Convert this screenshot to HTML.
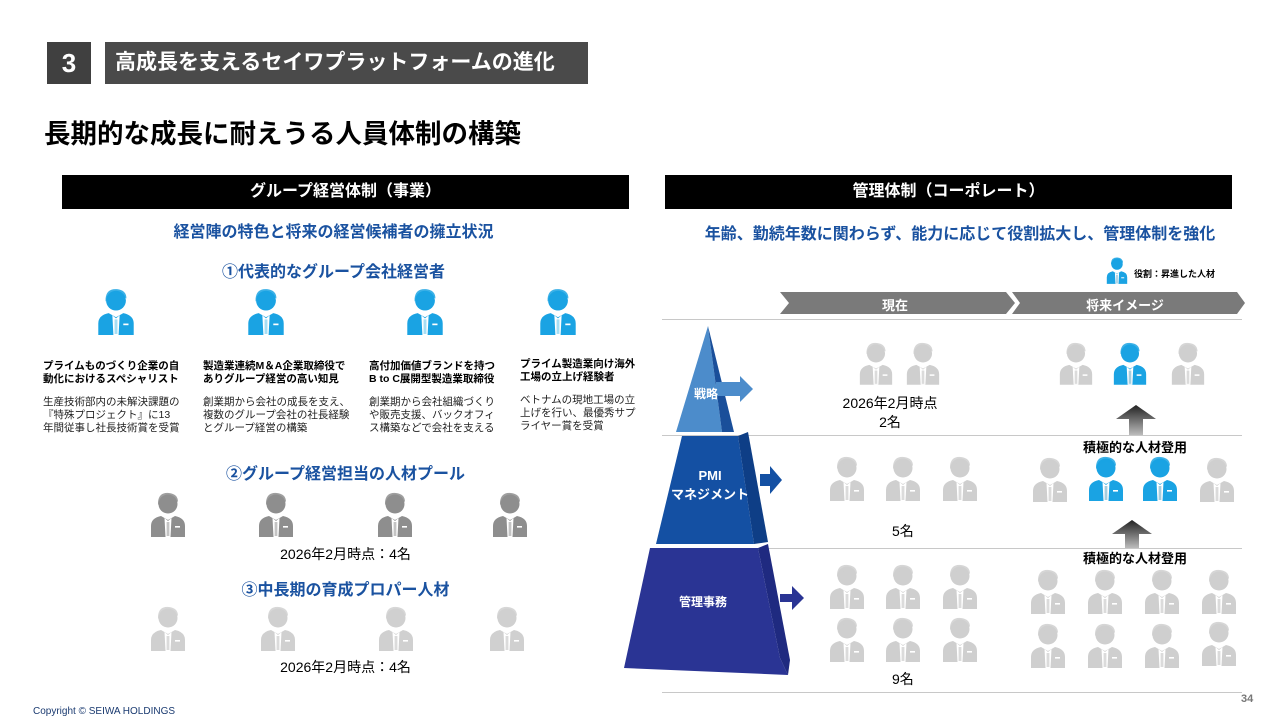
<!DOCTYPE html>
<html><head><meta charset="utf-8">
<style>
*{margin:0;padding:0;box-sizing:border-box}
body{width:1280px;height:720px;position:relative;background:#fff;font-family:"Liberation Sans","Noto Sans CJK JP",sans-serif;overflow:hidden;color:#000}
.a{position:absolute;white-space:nowrap}
.c{text-align:center}
.b{font-weight:bold}
.blue{color:#1a52a0}
svg.p{position:absolute}
.desc{position:absolute;font-size:10.5px;line-height:13px;color:#222}
.desc b{display:block;font-size:10.5px;margin-bottom:10px;color:#000}
.line{position:absolute;left:662px;width:580px;height:1px;background:#c8c8c8}
</style></head><body>
<svg width="0" height="0" style="position:absolute">
<defs>
<symbol id="pp" viewBox="0 0 40 48">
<path d="M3 48 V37 Q3 29 13 27 L20 31 L27 27 Q37 29 37 37 V48 Z"/>
<circle cx="20" cy="15" r="9.5"/>
<path d="M10 13 Q11 3 21 4 Q30 5 30 13 Q25 8 17 10 Q13 11 10 16 Z" opacity=".85"/>
<path d="M16.5 29 L20 32 L23.5 29 L22.5 48 L17.5 48 Z" fill="#fff"/>
<rect x="18.6" y="33" width="2.8" height="14" fill="currentColor" opacity=".35"/>
<rect x="27" y="37" width="5" height="1.6" fill="#fff"/>
</symbol>
</defs></svg>

<!-- header -->
<div class="a" style="left:47px;top:42px;width:44px;height:42px;background:#404040;color:#fff;font-size:26px;font-weight:bold;text-align:center;line-height:42px">3</div>
<div class="a" style="left:105px;top:42px;width:483px;height:42px;background:#4a4a4a;color:#fff;font-size:21px;font-weight:bold;line-height:42px;padding-left:10px">高成長を支えるセイワプラットフォームの進化</div>
<div class="a b" style="left:44px;top:112px;font-size:26.5px">長期的な成長に耐えうる人員体制の構築</div>

<!-- left panel -->
<div class="a c b" style="left:62px;top:175px;width:567px;height:34px;background:#000;color:#fff;font-size:16px;line-height:34px">グループ経営体制（事業）</div>
<div class="a c b blue" style="left:50px;top:218px;width:567px;font-size:16px">経営陣の特色と将来の経営候補者の擁立状況</div>
<div class="a c b blue" style="left:50px;top:258px;width:567px;font-size:16px">①代表的なグループ会社経営者</div>

<svg class="p" style="left:95px;top:285px;color:#00a0e0;fill:#1aa3e3" width="42" height="50"><use href="#pp"/></svg>
<svg class="p" style="left:245px;top:285px;color:#00a0e0;fill:#1aa3e3" width="42" height="50"><use href="#pp"/></svg>
<svg class="p" style="left:404px;top:285px;color:#00a0e0;fill:#1aa3e3" width="42" height="50"><use href="#pp"/></svg>
<svg class="p" style="left:537px;top:285px;color:#00a0e0;fill:#1aa3e3" width="42" height="50"><use href="#pp"/></svg>

<div class="desc" style="left:43px;top:360px"><b>プライムものづくり企業の自<br>動化におけるスペシャリスト</b>生産技術部内の未解決課題の<br>『特殊プロジェクト』に13<br>年間従事し社長技術賞を受賞</div>
<div class="desc" style="left:203px;top:360px"><b>製造業連続M＆A企業取締役で<br>ありグループ経営の高い知見</b>創業期から会社の成長を支え、<br>複数のグループ会社の社長経験<br>とグループ経営の構築</div>
<div class="desc" style="left:369px;top:360px"><b>高付加価値ブランドを持つ<br>B to C展開型製造業取締役</b>創業期から会社組織づくり<br>や販売支援、バックオフィ<br>ス構築などで会社を支える</div>
<div class="desc" style="left:520px;top:358px"><b>プライム製造業向け海外<br>工場の立上げ経験者</b>ベトナムの現地工場の立<br>上げを行い、最優秀サプ<br>ライヤー賞を受賞</div>

<div class="a c b blue" style="left:62px;top:460px;width:567px;font-size:16px">②グループ経営担当の人材プール</div>
<svg class="p" style="left:148px;top:489px;fill:#8e8e8e;color:#555" width="40" height="48"><use href="#pp"/></svg>
<svg class="p" style="left:256px;top:489px;fill:#8e8e8e;color:#555" width="40" height="48"><use href="#pp"/></svg>
<svg class="p" style="left:375px;top:489px;fill:#8e8e8e;color:#555" width="40" height="48"><use href="#pp"/></svg>
<svg class="p" style="left:490px;top:489px;fill:#8e8e8e;color:#555" width="40" height="48"><use href="#pp"/></svg>
<div class="a c" style="left:62px;top:544px;width:567px;font-size:14px">2026年2月時点：4名</div>

<div class="a c b blue" style="left:62px;top:576px;width:567px;font-size:16px">③中長期の育成プロパー人材</div>
<svg class="p" style="left:148px;top:603px;fill:#d0d0d0;color:#999" width="40" height="48"><use href="#pp"/></svg>
<svg class="p" style="left:258px;top:603px;fill:#d0d0d0;color:#999" width="40" height="48"><use href="#pp"/></svg>
<svg class="p" style="left:376px;top:603px;fill:#d0d0d0;color:#999" width="40" height="48"><use href="#pp"/></svg>
<svg class="p" style="left:487px;top:603px;fill:#d0d0d0;color:#999" width="40" height="48"><use href="#pp"/></svg>
<div class="a c" style="left:62px;top:657px;width:567px;font-size:14px">2026年2月時点：4名</div>

<!-- right panel -->
<div class="a c b" style="left:665px;top:175px;width:567px;height:34px;background:#000;color:#fff;font-size:16px;line-height:34px">管理体制（コーポレート）</div>
<div class="a c b blue" style="left:660px;top:220px;width:600px;font-size:16px">年齢、勤続年数に関わらず、能力に応じて役割拡大し、管理体制を強化</div>
<svg class="p" style="left:1105px;top:255px;fill:#1aa3e3;color:#0070a0" width="24" height="29"><use href="#pp"/></svg>
<div class="a b" style="left:1134px;top:267px;font-size:9px">役割：昇進した人材</div>

<svg class="p" style="left:775px;top:290px" width="470" height="26">
<polygon points="5,2 233,2 231,2 240,13 231,24 5,24 14,13" fill="#7a7a7a"/>
<polygon points="237,2 462,2 470,13 462,24 237,24 245,13" fill="#7a7a7a"/>
</svg>
<div class="a c b" style="left:790px;top:295px;width:210px;color:#fff;font-size:13px">現在</div>
<div class="a c b" style="left:1020px;top:295px;width:210px;color:#fff;font-size:13px">将来イメージ</div>

<div class="line" style="top:319px"></div>
<div class="line" style="top:435px"></div>
<div class="line" style="top:548px"></div>
<div class="line" style="top:692px"></div>

<!-- pyramid -->
<svg class="p" style="left:620px;top:320px" width="200" height="365">
<polygon points="88,6 56,112 102,112" fill="#4c8ccb"/>
<polygon points="88,6 102,112 114,112" fill="#1a4f9a"/>
<polygon points="62,116 118,116 134,224 36,224" fill="#1450a3"/>
<polygon points="118,116 128,112 148,222 134,224" fill="#0e3e86"/>
<polygon points="30,228 138,228 160,338 168,355 4,348" fill="#2a3494"/>
<polygon points="138,228 148,224 170,340 168,355 160,338" fill="#1f2a80"/>
<polygon points="96,62 120,62 120,56 133,69 120,82 120,76 96,76" fill="#4c8ccb"/>
<polygon points="140,154 150,154 150,146 162,160 150,174 150,166 140,166" fill="#1450a3"/>
<polygon points="160,274 172,274 172,266 184,278 172,290 172,282 160,282" fill="#2a3494"/>
</svg>
<div class="a b" style="left:694px;top:385px;color:#fff;font-size:12px">戦略</div>
<div class="a c b" style="left:660px;top:466px;width:100px;color:#fff;font-size:13px;line-height:19px">PMI<br>マネジメント</div>
<div class="a b" style="left:679px;top:593px;color:#fff;font-size:12px">管理事務</div>

<!-- current -->
<svg class="p" style="left:857px;top:338px;fill:#cfcfcf;color:#999" width="38" height="48"><use href="#pp"/></svg>
<svg class="p" style="left:904px;top:338px;fill:#cfcfcf;color:#999" width="38" height="48"><use href="#pp"/></svg>
<div class="a c" style="left:830px;top:394px;width:120px;font-size:14px;line-height:19px">2026年2月時点<br>2名</div>

<svg class="p" style="left:827px;top:453px;fill:#cfcfcf;color:#999" width="40" height="48"><use href="#pp"/></svg>
<svg class="p" style="left:883px;top:453px;fill:#cfcfcf;color:#999" width="40" height="48"><use href="#pp"/></svg>
<svg class="p" style="left:940px;top:453px;fill:#cfcfcf;color:#999" width="40" height="48"><use href="#pp"/></svg>
<div class="a" style="left:892px;top:521px;font-size:14px">5名</div>

<svg class="p" style="left:827px;top:561px;fill:#cfcfcf;color:#999" width="40" height="48"><use href="#pp"/></svg>
<svg class="p" style="left:883px;top:561px;fill:#cfcfcf;color:#999" width="40" height="48"><use href="#pp"/></svg>
<svg class="p" style="left:940px;top:561px;fill:#cfcfcf;color:#999" width="40" height="48"><use href="#pp"/></svg>
<svg class="p" style="left:827px;top:614px;fill:#cfcfcf;color:#999" width="40" height="48"><use href="#pp"/></svg>
<svg class="p" style="left:883px;top:614px;fill:#cfcfcf;color:#999" width="40" height="48"><use href="#pp"/></svg>
<svg class="p" style="left:940px;top:614px;fill:#cfcfcf;color:#999" width="40" height="48"><use href="#pp"/></svg>
<div class="a" style="left:892px;top:669px;font-size:14px">9名</div>

<!-- future -->
<svg class="p" style="left:1057px;top:338px;fill:#cfcfcf;color:#999" width="38" height="48"><use href="#pp"/></svg>
<svg class="p" style="left:1111px;top:338px;fill:#1aa3e3;color:#0070a0" width="38" height="48"><use href="#pp"/></svg>
<svg class="p" style="left:1169px;top:338px;fill:#cfcfcf;color:#999" width="38" height="48"><use href="#pp"/></svg>
<svg class="p" style="left:1116px;top:405px" width="40" height="30"><defs><linearGradient id="g1" x1="0" y1="0" x2="0" y2="1"><stop offset="0" stop-color="#222"/><stop offset="1" stop-color="#bbb"/></linearGradient></defs><polygon points="20,0 40,14 27,14 27,30 13,30 13,14 0,14" fill="url(#g1)"/></svg>
<div class="a c b" style="left:1060px;top:437px;width:150px;font-size:13px">積極的な人材登用</div>

<svg class="p" style="left:1030px;top:454px;fill:#cfcfcf;color:#999" width="40" height="48"><use href="#pp"/></svg>
<svg class="p" style="left:1086px;top:453px;fill:#1aa3e3;color:#0070a0" width="40" height="48"><use href="#pp"/></svg>
<svg class="p" style="left:1140px;top:453px;fill:#1aa3e3;color:#0070a0" width="40" height="48"><use href="#pp"/></svg>
<svg class="p" style="left:1197px;top:454px;fill:#cfcfcf;color:#999" width="40" height="48"><use href="#pp"/></svg>
<svg class="p" style="left:1112px;top:520px" width="40" height="28"><defs><linearGradient id="g2" x1="0" y1="0" x2="0" y2="1"><stop offset="0" stop-color="#222"/><stop offset="1" stop-color="#bbb"/></linearGradient></defs><polygon points="20,0 40,14 27,14 27,28 13,28 13,14 0,14" fill="url(#g2)"/></svg>
<div class="a c b" style="left:1060px;top:548px;width:150px;font-size:13px">積極的な人材登用</div>

<svg class="p" style="left:1028px;top:566px;fill:#cfcfcf;color:#999" width="40" height="48"><use href="#pp"/></svg>
<svg class="p" style="left:1085px;top:566px;fill:#cfcfcf;color:#999" width="40" height="48"><use href="#pp"/></svg>
<svg class="p" style="left:1142px;top:566px;fill:#cfcfcf;color:#999" width="40" height="48"><use href="#pp"/></svg>
<svg class="p" style="left:1199px;top:566px;fill:#cfcfcf;color:#999" width="40" height="48"><use href="#pp"/></svg>
<svg class="p" style="left:1028px;top:620px;fill:#cfcfcf;color:#999" width="40" height="48"><use href="#pp"/></svg>
<svg class="p" style="left:1085px;top:620px;fill:#cfcfcf;color:#999" width="40" height="48"><use href="#pp"/></svg>
<svg class="p" style="left:1142px;top:620px;fill:#cfcfcf;color:#999" width="40" height="48"><use href="#pp"/></svg>
<svg class="p" style="left:1199px;top:618px;fill:#cfcfcf;color:#999" width="40" height="48"><use href="#pp"/></svg>

<div class="a b" style="left:1241px;top:693px;font-size:11px;color:#777">34</div>
<div class="a" style="left:33px;top:706px;font-size:10px;color:#1a3a70">Copyright © SEIWA HOLDINGS</div>
</body></html>
